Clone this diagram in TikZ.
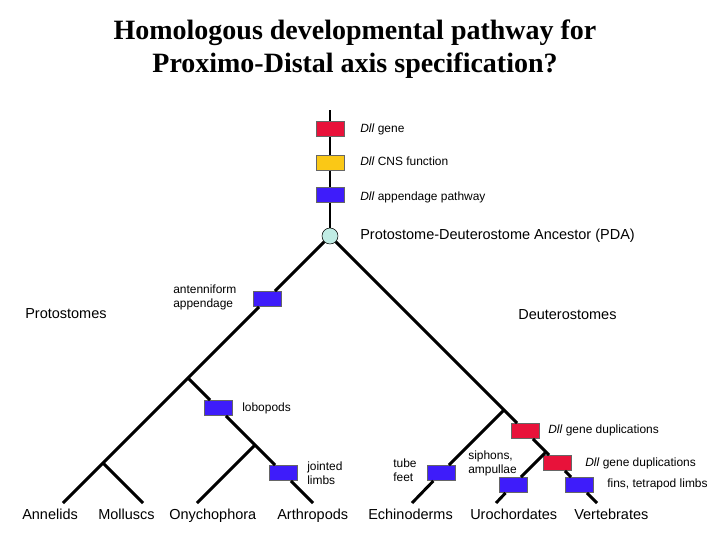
\documentclass[tikz,border=0pt]{standalone}
\usepackage{fontspec}
\setmainfont{Liberation Sans}
\newfontfamily\titlefont{Liberation Serif}
\usepackage{xcolor}
\definecolor{dllred}{RGB}{232,18,58}
\definecolor{dllyellow}{RGB}{250,200,22}
\definecolor{dllblue}{RGB}{62,28,250}
\definecolor{pdacyan}{RGB}{192,236,228}

\begin{document}
\begin{tikzpicture}[x=0.025cm, y=-0.025cm,%
% common options for the boxes:
block/.style = {draw=gray!80!black, line width=0.6pt, minimum width=0.7cm,
            minimum height=0.375cm, inner sep=0},
% common options for the labels:
small/.style = {anchor=west, align=left, inner sep=0,
            font=\fontsize{8.5}{10}\selectfont},
large/.style = {anchor=base west, inner sep=0, font=\fontsize{10.3}{12}\selectfont},
branch/.style = {line width=2.1pt}]
\useasboundingbox (0,0) rectangle (720,540);
% title
\node[align=center, font=\titlefont\bfseries\fontsize{19.9}{23.5}\selectfont] (T0) at (355,49) {Homologous developmental pathway for\\Proximo-Distal axis specification?};
% stem and ancestor
\coordinate (S0) at (330,110);
\node[block, fill=dllred] (S1) at (330,129) {};
\node[block, fill=dllyellow] (S2) at (330,163) {};
\node[block, fill=dllblue] (S3) at (330,195) {};
\node[circle, draw, fill=pdacyan, minimum size=0.4cm, inner sep=0] (S4) at (330,236) {};
% protostome side
\node[block, fill=dllblue] (P0) at (267,299) {};
\coordinate (P1) at (188,378);
\node[block, fill=dllblue] (P2) at (218,408) {};
\coordinate (P3) at (103,463);
\coordinate (P4) at (255,445);
\node[block, fill=dllblue] (P5) at (283,473) {};
\coordinate (E1) at (63,503);
\coordinate (E2) at (143,503);
\coordinate (E3) at (197,503);
\coordinate (E4) at (313,503);
% deuterostome side
\coordinate (D1) at (504,410);
\node[block, fill=dllblue] (D2) at (441,473) {};
\node[block, fill=dllred] (D3) at (525,431) {};
\coordinate (D4) at (546,452);
\node[block, fill=dllblue] (D5) at (513,485) {};
\node[block, fill=dllred] (D6) at (557,463) {};
\node[block, fill=dllblue] (D7) at (579,485) {};
\coordinate (E5) at (412,503);
\coordinate (E6) at (496,503);
\coordinate (E7) at (597,503);
% branches
\draw[branch] (S0) -- (S1) -- (S2) -- (S3) -- (S4);
\draw[branch] (S4) -- (P0) -- (P1) -- (P3) -- (E1);
\draw[branch] (P3) -- (E2);
\draw[branch] (P1) -- (P2) -- (P4) -- (P5) -- (E4);
\draw[branch] (P4) -- (E3);
\draw[branch] (S4) -- (D1) -- (D3) -- (D4) -- (D6) -- (D7) -- (E7);
\draw[branch] (D1) -- (D2) -- (E5);
\draw[branch] (D4) -- (D5) -- (E6);
% labels
\node[small] (L1) at (360,129) {\textit{Dll} gene};
\node[small] (L2) at (360,161) {\textit{Dll} CNS function};
\node[small] (L3) at (360,197) {\textit{Dll} appendage pathway};
\node[large] (L4) at (360,239) {Protostome-Deuterostome Ancestor (PDA)};
\node[small] (L5) at (173,297) {antenniform\\appendage};
\node[large] (L6) at (25,318) {Protostomes};
\node[large] (L7) at (518,319) {Deuterostomes};
\node[small] (L8) at (242,408) {lobopods};
\node[small] (L9) at (307,473) {jointed\\limbs};
\node[small] (L10) at (393,470) {tube\\feet};
\node[small] (L11) at (468,463) {siphons,\\ampullae};
\node[small] (L12) at (548,430) {\textit{Dll} gene duplications};
\node[small] (L13) at (585,463) {\textit{Dll} gene duplications};
\node[small] (L14) at (607,484) {fins, tetrapod limbs};
% taxa
\node[large] (B1) at (22,519) {Annelids};
\node[large] (B2) at (98,519) {Molluscs};
\node[large] (B3) at (169,519) {Onychophora};
\node[large] (B4) at (277,519) {Arthropods};
\node[large] (B5) at (368,519) {Echinoderms};
\node[large] (B6) at (470,519) {Urochordates};
\node[large] (B7) at (574,519) {Vertebrates};
\end{tikzpicture}
\end{document}
